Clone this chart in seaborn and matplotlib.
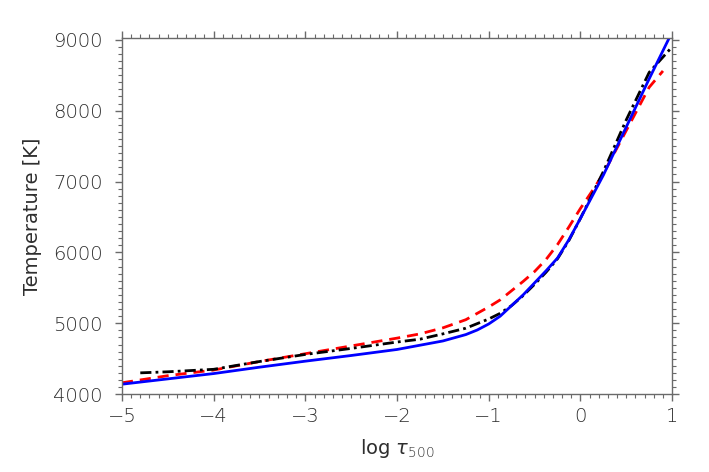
# temperature stratification vs optical depth, three models

import matplotlib
matplotlib.use("Agg")
import matplotlib.pyplot as plt
from matplotlib.ticker import MultipleLocator
import seaborn as sns

# values
log_tau_blue = [-5.0, -4.5, -4.0, -3.5, -3.0, -2.5, -2.0, -1.75, -1.5, -1.25, -1.125,
                -1.0, -0.875, -0.75, -0.625, -0.5, -0.375, -0.25, -0.125, 0.0,
                0.25, 0.5, 0.75, 1.0]
temp_blue = [4140, 4215, 4290, 4380, 4465, 4545, 4630, 4690, 4750, 4840, 4905,
             4990, 5100, 5250, 5400, 5570, 5740, 5920, 6180, 6480,
             7090, 7770, 8450, 9110]

log_tau_red = [-5.0, -4.5, -4.0, -3.5, -3.0, -2.5, -2.0, -1.75, -1.5, -1.25, -1.0,
               -0.875, -0.75, -0.625, -0.5, -0.375, -0.25, -0.125, 0.0, 0.125,
               0.25, 0.5, 0.75, 0.9]
temp_red = [4160, 4260, 4340, 4460, 4570, 4680, 4790, 4850, 4935, 5050, 5230,
            5330, 5460, 5590, 5730, 5900, 6110, 6360, 6620, 6860,
            7110, 7720, 8330, 8560]

log_tau_black = [-4.8, -4.5, -4.0, -3.5, -3.0, -2.5, -2.0, -1.75, -1.5, -1.25, -1.0,
                 -0.875, -0.75, -0.625, -0.5, -0.375, -0.25, -0.125, 0.0,
                 0.25, 0.5, 0.75, 1.0]
temp_black = [4300, 4315, 4350, 4460, 4560, 4645, 4735, 4775, 4850, 4930, 5060,
              5140, 5250, 5390, 5550, 5720, 5910, 6170, 6480,
              7140, 7870, 8540, 8900]

sns.set_style("ticks")
plt.rcParams['font.family'] = ['DejaVu Sans']
plt.rcParams['font.weight'] = 'light'

fig, ax = plt.subplots(figsize=(7.09, 4.72), dpi=100)
fig.subplots_adjust(left=0.172, right=0.948, top=0.9195, bottom=0.165)

sns.lineplot(x=log_tau_red, y=temp_red, ax=ax, color="#ff0000", linewidth=2.0,
             linestyle=(0, (4, 2.5)), sort=False, estimator=None)
sns.lineplot(x=log_tau_black, y=temp_black, ax=ax, color="black", linewidth=2.0,
             linestyle=(0, (4, 1.5, 1, 1.5)), sort=False, estimator=None)
sns.lineplot(x=log_tau_blue, y=temp_blue, ax=ax, color="#0000ff", linewidth=2.0,
             sort=False, estimator=None)

ax.set_xlim(-5, 1)
ax.set_ylim(4000, 9025)
ax.xaxis.set_minor_locator(MultipleLocator(0.1))
ax.yaxis.set_major_locator(MultipleLocator(1000))
ax.yaxis.set_minor_locator(MultipleLocator(100))

ax.set_xticks([-5, -4, -3, -2, -1, 0, 1])
ax.set_xticklabels(["\u22125", "\u22124", "\u22123", "\u22122", "\u22121", "0", "1"])

gray = "#6a6a6a"
for sp in ax.spines.values():
    sp.set_visible(True)
    sp.set_color(gray)
    sp.set_linewidth(1.0)
ax.tick_params(which="both", direction="out", top=True, right=True,
               colors=gray, labelcolor="#2e2e2e", labelsize=14)
ax.tick_params(which="major", length=5, width=1.0)
ax.tick_params(which="minor", length=3, width=0.8)
ax.tick_params(axis="x", pad=4)
ax.tick_params(axis="y", pad=9)

ax.set_xlabel(r"log $\tau_{\rm 500}$", fontsize=14, color="#2e2e2e", labelpad=8)
ax.set_ylabel("Temperature [K]", fontsize=14, color="#2e2e2e", labelpad=8)

plt.savefig("out.png", dpi=100)
